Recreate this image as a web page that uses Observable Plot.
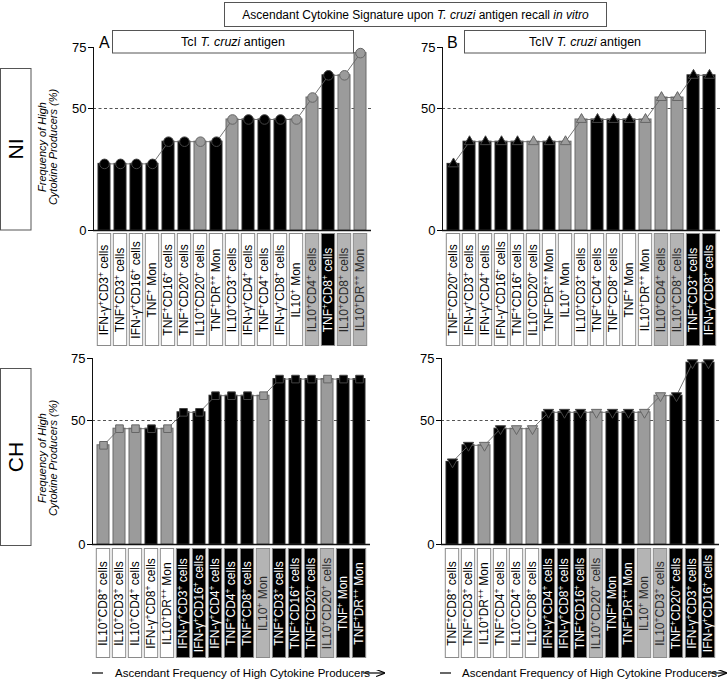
<!DOCTYPE html>
<html><head><meta charset="utf-8">
<script src="https://cdn.jsdelivr.net/npm/d3@7"></script>
<script src="https://cdn.jsdelivr.net/npm/@observablehq/plot@0.6"></script>
<style>
body{margin:0;background:#fff}
#root{position:relative;width:728px;height:679px;overflow:hidden;font-family:"Liberation Sans",Arial,Helvetica,sans-serif}
.abs{position:absolute}
</style>
</head><body><div id="root"></div>
<script>
// ---- Data ----
const labelsA = ["IFN-γ⁺CD3⁺ cells","TNF⁺CD3⁺ cells","IFN-γ⁺CD16⁺ cells","TNF⁺ Mon","TNF⁺CD16⁺ cells","TNF⁺CD20⁺ cells","IL10⁺CD20⁺ cells","TNF⁺DR⁺⁺ Mon","IL10⁺CD3⁺ cells","IFN-γ⁺CD4⁺ cells","TNF⁺CD4⁺ cells","IFN-γ⁺CD8⁺ cells","IL10⁺ Mon","IL10⁺CD4⁺ cells","TNF⁺CD8⁺ cells","IL10⁺CD8⁺ cells","IL10⁺DR⁺⁺ Mon"];
const valuesA = [27.3,27.3,27.3,27.3,36.4,36.4,36.4,36.4,45.5,45.5,45.5,45.5,45.5,54.5,63.6,63.6,72.7];

const labelsB = ["TNF⁺CD20⁺ cells","IFN-γ⁺CD3⁺ cells","IFN-γ⁺CD4⁺ cells","IFN-γ⁺CD16⁺ cells","TNF⁺CD16⁺ cells","IL10⁺CD20⁺ cells","TNF⁺DR⁺⁺ Mon","IL10⁺ Mon","IL10⁺CD3⁺ cells","TNF⁺CD4⁺ cells","TNF⁺CD8⁺ cells","TNF⁺ Mon","IL10⁺DR⁺⁺ Mon","IL10⁺CD4⁺ cells","IL10⁺CD8⁺ cells","TNF⁺CD3⁺ cells","IFN-γ⁺CD8⁺ cells"];
const valuesB = [27.3,36.4,36.4,36.4,36.4,36.4,36.4,36.4,45.5,45.5,45.5,45.5,45.5,54.5,54.5,63.6,63.6];

const labelsC = ["IL10⁺CD8⁺ cells","IL10⁺CD3⁺ cells","IL10⁺CD4⁺ cells","IFN-γ⁺CD8⁺ cells","IL10⁺DR⁺⁺ Mon","IFN-γ⁺CD3⁺ cells","IFN-γ⁺CD16⁺ cells","IFN-γ⁺CD4⁺ cells","TNF⁺CD4⁺ cells","TNF⁺CD8⁺ cells","IL10⁺ Mon","TNF⁺CD3⁺ cells","TNF⁺CD16⁺ cells","TNF⁺CD20⁺ cells","IL10⁺CD20⁺ cells","TNF⁺ Mon","TNF⁺DR⁺⁺ Mon"];
const valuesC = [40.0,46.7,46.7,46.7,46.7,53.3,53.3,60.0,60.0,60.0,60.0,66.7,66.7,66.7,66.7,66.7,66.7];

const labelsD = ["TNF⁺CD8⁺ cells","TNF⁺CD3⁺ cells","IL10⁺DR⁺⁺ Mon","TNF⁺CD4⁺ cells","IL10⁺CD4⁺ cells","IL10⁺CD8⁺ cells","IFN-γ⁺CD4⁺ cells","IFN-γ⁺CD8⁺ cells","TNF⁺CD16⁺ cells","IL10⁺CD20⁺ cells","TNF⁺ Mon","TNF⁺DR⁺⁺ Mon","IL10⁺ Mon","IL10⁺CD3⁺ cells","TNF⁺CD20⁺ cells","IFN-γ⁺CD3⁺ cells","IFN-γ⁺CD16⁺ cells"];
const valuesD = [33.3,40.0,40.0,46.7,46.7,46.7,53.3,53.3,53.3,53.3,53.3,53.3,53.3,60.0,60.0,73.3,73.3];

const yTicks = [0, 50, 75];
const threshold = 50;

// ---- Rendering ----
const FONT = "'Liberation Sans', Arial, Helvetica, sans-serif";
const root = document.getElementById("root");
const NS = "http://www.w3.org/2000/svg";

function place(node, left, top) {
  const d = document.createElement("div");
  d.className = "abs";
  d.style.left = left + "px";
  d.style.top = top + "px";
  d.appendChild(node);
  root.appendChild(d);
}

function supify(svg, supSize) {
  svg.querySelectorAll("text").forEach(t => {
    const s = t.textContent;
    if (!s.includes("⁺")) return;
    while (t.firstChild) t.removeChild(t.firstChild);
    let raised = false;
    for (const p of s.split(/(⁺+)/)) {
      if (!p) continue;
      const ts = document.createElementNS(NS, "tspan");
      if (p[0] === "⁺") {
        ts.textContent = "+".repeat(p.length);
        ts.setAttribute("font-size", supSize);
        if (!raised) ts.setAttribute("dy", "-4");
        raised = true;
      } else {
        ts.textContent = p;
        if (raised) ts.setAttribute("dy", "4");
        raised = false;
      }
      t.appendChild(ts);
    }
  });
}

const isIL10 = l => l.startsWith("IL10");
const BLACK = "#000", GRAY = "#9b9b9b";

function panel(labels, values, cfg) {
  const data = labels.map((label, i) => ({label, value: values[i]}));
  const W = 312, ML = 30, MR = 4;
  const xOpts = {domain: labels, paddingInner: 0.15, paddingOuter: 0.15, axis: null};
  const style = {fontFamily: FONT, background: "transparent", overflow: "visible", color: "#000"};

  const bars = Plot.plot({
    width: W, height: cfg.h, marginLeft: ML, marginRight: MR, marginTop: 12, marginBottom: 2,
    x: xOpts,
    y: {domain: [0, 75], label: null},
    color: {type: "identity"},
    style,
    marks: [
      Plot.ruleY([threshold], {stroke: "#555", strokeDasharray: "3,2.5", strokeWidth: 1}),
      Plot.barY(data, {x: "label", y: "value", insetLeft: 1, insetRight: 1,
        fill: d => isIL10(d.label) ? GRAY : BLACK,
        stroke: d => isIL10(d.label) ? "#6a6a6a" : "#2a2a2a", strokeWidth: 1}),
      Plot.line(data, {x: "label", y: "value", stroke: "#666", strokeWidth: 0.9}),
      Plot.dot(data, {x: "label", y: "value", symbol: cfg.symbol, r: cfg.r, rotate: cfg.rotate || 0,
        fill: d => isIL10(d.label) ? GRAY : BLACK,
        stroke: d => isIL10(d.label) ? "#666" : "#444", strokeWidth: 1}),
      Plot.ruleY([0], {stroke: "#111", strokeWidth: 1.5}),
      Plot.frame({anchor: "left", stroke: "#111"}),
      Plot.axisY({ticks: yTicks, tickSize: 5, tickPadding: 2, fontSize: 13, tickFormat: d => d, label: null})
    ]
  });
  place(bars, cfg.axisX - ML, cfg.top);

  const boxFill = d => d.value > threshold ? (isIL10(d.label) ? "#b4b4b4" : "#000") : "#fff";
  const textFill = d => d.value > threshold ? (isIL10(d.label) ? "#2a2a2a" : "#fff") : "#000";
  const lab = Plot.plot({
    width: W, height: cfg.lh, marginLeft: ML, marginRight: MR, marginTop: 0, marginBottom: 0,
    x: xOpts,
    y: {domain: [0, 1], axis: null},
    color: {type: "identity"},
    style,
    marks: [
      Plot.barY(data, {x: "label", y1: 0, y2: 1, fill: boxFill, stroke: "#8a8a8a",
        insetTop: 0.5, insetBottom: 0.5, insetLeft: 0.3, insetRight: 0.3}),
      Plot.text(data, {x: "label", y: 0.5, text: "label", rotate: -90, fill: textFill, fontSize: 12})
    ]
  });
  supify(lab, "8.5");
  place(lab, cfg.axisX - ML, cfg.ltop);
}

panel(labelsA, valuesA, {axisX: 93, top: 35, h: 197, ltop: 233, lh: 113, symbol: "circle", r: 4.8});
panel(labelsB, valuesB, {axisX: 441.5, top: 35, h: 197, ltop: 233, lh: 113, symbol: "triangle", r: 3.8});
panel(labelsC, valuesC, {axisX: 91.7, top: 346, h: 200, ltop: 548, lh: 110, symbol: "square", r: 4.3});
panel(labelsD, valuesD, {axisX: 440.7, top: 346, h: 200, ltop: 548, lh: 110, symbol: "triangle", r: 3.8, rotate: 180});

// ---- Annotations ----
const yTitle = (cy) => `
<text transform="translate(45.6,${cy}) rotate(-90)" text-anchor="middle" font-style="italic" font-size="11">Frequency of High</text>
<text transform="translate(57.2,${cy}) rotate(-90)" text-anchor="middle" font-style="italic" font-size="11">Cytokine Producers (%)</text>`;
const ov = document.createElement("div");
ov.className = "abs";
ov.style.left = "0px"; ov.style.top = "0px";
ov.innerHTML = `<svg width="728" height="679" font-family="${FONT.replace(/'/g, "")}" style="display:block">
<defs><marker id="ah" markerWidth="9" markerHeight="7" refX="8" refY="3.5" orient="auto" markerUnits="userSpaceOnUse">
<path d="M0,0 L9,3.5 L0,7" fill="none" stroke="#000" stroke-width="1.2"/></marker></defs>
<rect x="224.5" y="2.5" width="382" height="24" fill="#fff" stroke="#555"/>
<text x="415.5" y="19" font-size="12" text-anchor="middle">Ascendant Cytokine Signature upon <tspan font-style="italic">T. cruzi</tspan> antigen recall <tspan font-style="italic">in vitro</tspan></text>
<text x="99" y="48" font-size="16">A</text>
<rect x="112.5" y="30.5" width="241" height="22.5" fill="#fff" stroke="#555"/>
<text x="233" y="46" font-size="12.5" text-anchor="middle">TcI <tspan font-style="italic">T. cruzi</tspan> antigen</text>
<text x="447" y="48" font-size="16">B</text>
<rect x="464.5" y="30.5" width="241" height="22.5" fill="#fff" stroke="#555"/>
<text x="585" y="46" font-size="12.5" text-anchor="middle">TcIV <tspan font-style="italic">T. cruzi</tspan> antigen</text>
<rect x="0.5" y="68.5" width="30.5" height="161.5" fill="#fff" stroke="#555"/>
<text transform="translate(15.8,149) rotate(-90)" text-anchor="middle" dy="0.36em" font-size="21">NI</text>
<rect x="0.5" y="368.5" width="30.5" height="177" fill="#fff" stroke="#555"/>
<text transform="translate(15.8,457) rotate(-90)" text-anchor="middle" dy="0.36em" font-size="21">CH</text>
${yTitle(147)}
${yTitle(458)}
<line x1="92" x2="103" y1="673" y2="673" stroke="#000" stroke-width="1.2"/>
<text id="arrL" x="115" y="677" font-size="11.5">Ascendant Frequency of High Cytokine Producers</text>
<line x1="440" x2="451" y1="673" y2="673" stroke="#000" stroke-width="1.2"/>
<text id="arrR" x="462" y="677" font-size="11.5">Ascendant Frequency of High Cytokine Producers</text>
</svg>`;
root.appendChild(ov);
const svgOv = ov.querySelector("svg");
for (const id of ["arrL", "arrR"]) {
  const t = svgOv.querySelector("#" + id);
  const x0 = +t.getAttribute("x");
  const end = x0 + t.getComputedTextLength();
  const ln = document.createElementNS(NS, "line");
  ln.setAttribute("x1", end - 7); ln.setAttribute("x2", Math.min(end + 14, 726));
  ln.setAttribute("y1", 673); ln.setAttribute("y2", 673);
  ln.setAttribute("stroke", "#000"); ln.setAttribute("stroke-width", "1.2");
  ln.setAttribute("marker-end", "url(#ah)");
  svgOv.appendChild(ln);
}
</script>
</body></html>
